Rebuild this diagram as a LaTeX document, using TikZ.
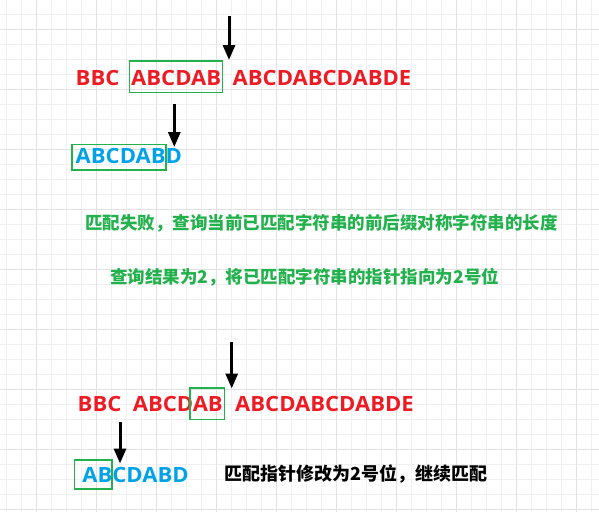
\documentclass[tikz,border=0pt]{standalone}
\usepackage{fontspec}
\usetikzlibrary{arrows.meta}
\newfontfamily\latinfont{Open Sans}[FakeStretch=1.05]
\newfontfamily\cjkfont{Noto Sans CJK SC}
\definecolor{gridminor}{RGB}{240,240,240}
\definecolor{gridmajor}{RGB}{226,226,226}
\definecolor{txtred}{RGB}{237,28,36}
\definecolor{txtblue}{RGB}{0,162,232}
\definecolor{boxgreen}{RGB}{34,177,76}
\tikzset{
  seq/.style={inner sep=0pt, anchor=base west, font=\latinfont\bfseries\fontsize{21}{21}\selectfont},
  redseq/.style={seq, text=txtred},
  blueseq/.style={seq, text=txtblue},
  note/.style={inner sep=0pt, anchor=base west, font=\cjkfont\bfseries\fontsize{17.5}{17.5}\selectfont},
  greennote/.style={note, text=boxgreen},
  blacknote/.style={note, text=black, font=\cjkfont\bfseries\fontsize{18}{18}\selectfont},
  gbox/.style={draw=boxgreen, line width=1.6pt},
  pointer/.style={line width=3pt, -{Triangle[width=12pt,length=15pt]}},
}
\begin{document}
\begin{tikzpicture}[x=1pt,y=-1pt]
\useasboundingbox (0,0) rectangle (599,512);
\fill[white] (0,0) rectangle (599,512);
% grid
\foreach \x in {0,...,39} {\draw[gridminor, line width=1pt] (6.7+15*\x,0) -- (6.7+15*\x,512);}
\foreach \y in {0,...,33} {\draw[gridminor, line width=1pt] (0,14.3+15*\y) -- (599,14.3+15*\y);}
\foreach \x in {0,...,9} {\draw[gridmajor, line width=1pt] (36.7+60*\x,0) -- (36.7+60*\x,512);}
\foreach \y in {0,...,8} {\draw[gridmajor, line width=1pt] (0,29.3+60*\y) -- (599,29.3+60*\y);}

% ---- upper part
\node[redseq] (t1) at (75.5,85) {BBC};
\node[redseq] (t2) at (131,85) {ABCDAB};
\node[redseq] (t3) at (232.5,85) {ABCDABCDABDE};
\draw[gbox] (129.3,60.7) rectangle (222.3,92.3);
\coordinate (a1s) at (229,16);
\coordinate (a1e) at (229,60);
\draw[pointer] (a1s) -- (a1e);

\node[blueseq] (p1) at (75.5,163.3) {ABCDABD};
\draw[gbox] (71.7,144.3) rectangle (166,170);
\coordinate (a2s) at (174.3,104);
\coordinate (a2e) at (174.3,147);
\draw[pointer] (a2s) -- (a2e);

\node[greennote] (n1) at (85,229) {匹配失败，查询当前已匹配字符串的前后缀对称字符串的长度};
\node[greennote] (n2) at (110,283.5) {查询结果为2，将已匹配字符串的指针指向为2号位};

% ---- lower part
\node[redseq] (b1) at (77.5,411.7) {BBC};
\node[redseq] (b2) at (132.6,411.7) {ABCDAB};
\node[redseq] (b3) at (235,411.7) {ABCDABCDABDE};
\draw[gbox] (190,387.7) rectangle (224.3,419.3);
\coordinate (a3s) at (231.7,342);
\coordinate (a3e) at (231.7,388.5);
\draw[pointer] (a3s) -- (a3e);

\node[blueseq] (p2) at (82.2,482.7) {ABCDABD};
\draw[gbox] (74.3,460) rectangle (111.7,489);
\coordinate (a4s) at (120,422);
\coordinate (a4e) at (120,463.5);
\draw[pointer] (a4s) -- (a4e);

\node[blacknote] (n3) at (224,480.5) {匹配指针修改为2号位，继续匹配};
\end{tikzpicture}
\end{document}
